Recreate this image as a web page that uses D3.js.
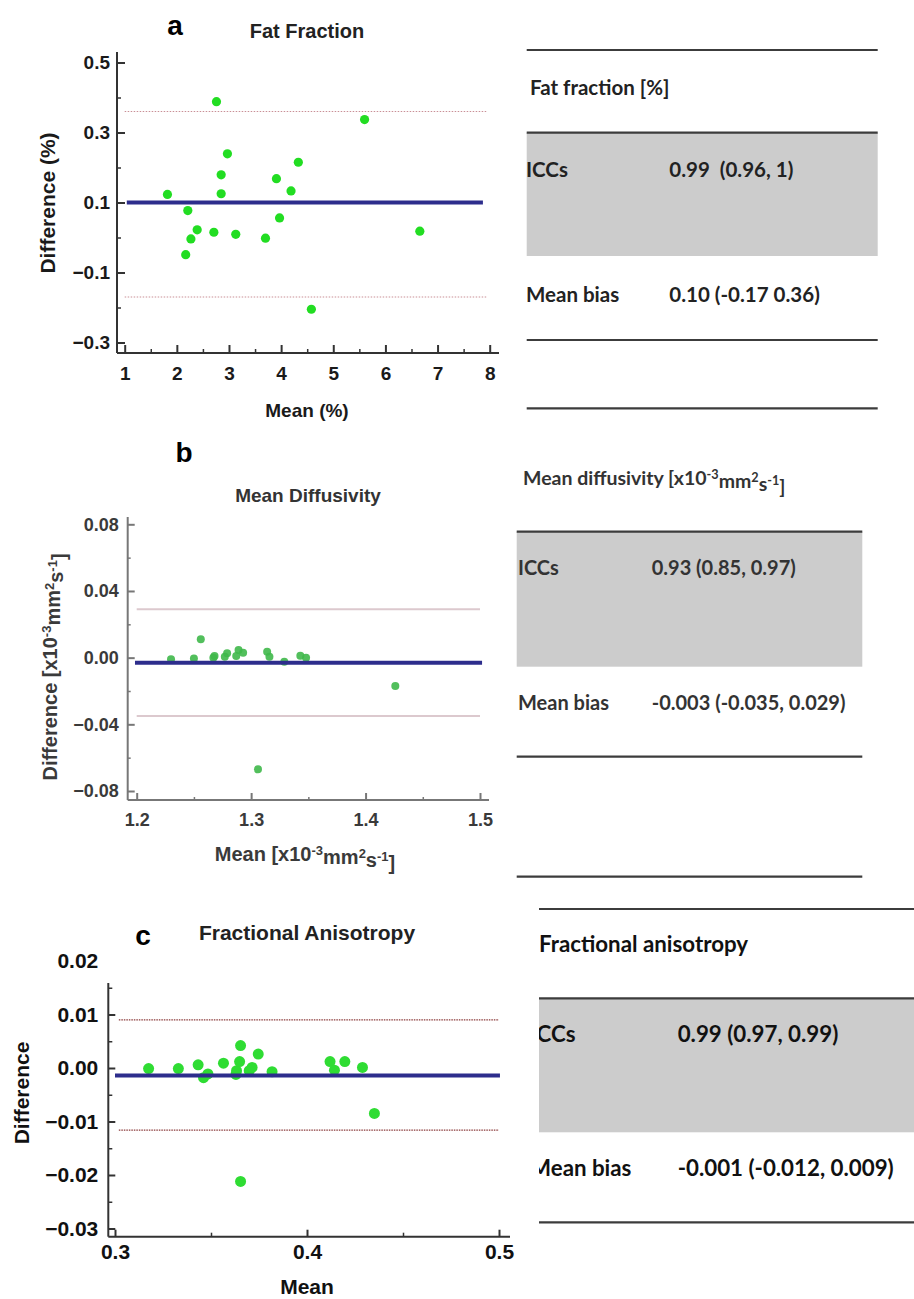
<!DOCTYPE html>
<html>
<head>
<meta charset="utf-8">
<script src="https://cdn.jsdelivr.net/npm/d3@7"></script>
<style>
  html, body { margin: 0; padding: 0; background: #fff; }
  svg { display: block; }
</style>
</head>
<body>
<svg id="chart" width="914" height="1299"></svg>
<script>
// ---------------- DATA ----------------
// Panel a: Fat Fraction
const aMean = [1.82, 2.76, 2.21, 2.17, 2.27, 2.39, 2.71, 2.85, 2.85, 2.97, 3.13, 3.70, 3.91, 3.97, 4.19, 4.33, 4.58, 5.60, 6.66];
const aDiff = [0.123, 0.388, 0.077, -0.049, -0.004, 0.022, 0.015, 0.179, 0.125, 0.239, 0.009, -0.002, 0.168, 0.056, 0.133, 0.215, -0.205, 0.337, 0.018];
const aBias = 0.10;
const aLimits = [-0.17, 0.36];
const aTicksX = [1, 2, 3, 4, 5, 6, 7, 8];
const aMinorX = [1.5, 2.5, 3.5, 4.5, 5.5, 6.5, 7.5];
const aTicksY = [-0.3, -0.1, 0.1, 0.3, 0.5];
const aMinorY = [-0.2, 0, 0.2, 0.4];

// Panel b: Mean Diffusivity
const bMean = [1.230, 1.250, 1.256, 1.268, 1.267, 1.279, 1.277, 1.289, 1.293, 1.287, 1.314, 1.316, 1.329, 1.343, 1.348, 1.306, 1.426];
const bDiff = [-0.001, -0.0005, 0.011, 0.001, 0.000, 0.0026, 0.0005, 0.0046, 0.003, 0.001, 0.0036, 0.0006, -0.0024, 0.0012, 0.000, -0.067, -0.017];
const bBias = -0.003;
const bLimits = [-0.035, 0.029];
const bTicksY = [-0.08, -0.04, 0.00, 0.04, 0.08];
const bMinorY = [-0.06, -0.02, 0.02, 0.06];
const bTicksX = [1.2, 1.3, 1.4, 1.5];
const bMinorX = [1.25, 1.35, 1.45];

// Panel c: Fractional Anisotropy
const cMean = [0.3175, 0.333, 0.3433, 0.3461, 0.3484, 0.3565, 0.3633, 0.3630, 0.3649, 0.3654, 0.3699, 0.3714, 0.3746, 0.3818, 0.3654, 0.412, 0.4143, 0.4197, 0.4289, 0.4351];
const cDiff = [-0.0001, -0.0001, 0.0006, -0.0018, -0.0011, 0.0009, -0.0005, -0.0012, 0.0012, 0.0042, -0.0005, 0.0001, 0.0026, -0.0007, -0.0212, 0.0012, -0.0004, 0.0012, 0.0001, -0.0085];
const cBias = -0.0014;
const cLimits = [-0.0116, 0.009];
const cTicksY = [-0.03, -0.02, -0.01, 0.00, 0.01, 0.02];
const cMinorY = [-0.025, -0.015, -0.005, 0.005, 0.015];
const cTicksX = [0.3, 0.4, 0.5];
const cMinorX = [0.35, 0.45];

// Tables
const tableTitles = ["Fat fraction [%]", "Mean diffusivity", "Fractional anisotropy"];
const rowLabels = ["ICCs", "Mean bias"];
const iccValues = ["0.99  (0.96, 1)", "0.93 (0.85, 0.97)", "0.99 (0.97, 0.99)"];
const biasValues = ["0.10 (-0.17 0.36)", "-0.003 (-0.035, 0.029)", "-0.001 (-0.012, 0.009)"];

// ---------------- DRAW ----------------
const svg = d3.select("#chart");

function unitText(sel, prefix) {
  // prefix [x10^-3 mm^2 s^-1]
  sel.append("tspan").text(prefix + "[x10");
  sel.append("tspan").attr("dy", "-0.45em").attr("font-size", "0.65em").text("-3");
  sel.append("tspan").attr("dy", "0.45em").text("mm");
  sel.append("tspan").attr("dy", "-0.45em").attr("font-size", "0.65em").text("2");
  sel.append("tspan").attr("dy", "0.45em").text("s");
  sel.append("tspan").attr("dy", "-0.45em").attr("font-size", "0.65em").text("-1");
  sel.append("tspan").attr("dy", "0.45em").text("]");
}

function drawPanel(p) {
  const g = svg.append("g");
  const x = d3.scaleLinear().domain(p.xDomain).range(p.xRange);
  const y = d3.scaleLinear().domain(p.yDomain).range(p.yRange);

  // limits of agreement
  p.limits.forEach(v => {
    g.append("line")
      .attr("x1", x(p.limExt[0])).attr("x2", x(p.limExt[1]))
      .attr("y1", y(v)).attr("y2", y(v))
      .attr("stroke", p.limColor).attr("stroke-width", p.limWidth)
      .attr("stroke-dasharray", p.limDash);
  });

  // points
  g.selectAll("circle.pt").data(p.mean.map((m, i) => [m, p.diff[i]]))
    .join("circle").attr("class", "pt")
    .attr("cx", d => x(d[0])).attr("cy", d => y(d[1]))
    .attr("r", p.r).attr("fill", p.ptColor).attr("fill-opacity", p.ptOpacity);

  // bias line
  g.append("line")
    .attr("x1", x(p.biasExt[0])).attr("x2", x(p.biasExt[1]))
    .attr("y1", y(p.bias)).attr("y2", y(p.bias))
    .attr("stroke", "#2d2d8c").attr("stroke-width", p.biasWidth);

  // axes lines
  g.append("line").attr("x1", p.axX).attr("x2", p.axX).attr("y1", p.axTop).attr("y2", p.axBottom)
    .attr("stroke", p.axColor).attr("stroke-width", 2);
  g.append("line").attr("x1", p.axX).attr("x2", p.axRight).attr("y1", p.axBottom).attr("y2", p.axBottom)
    .attr("stroke", p.axColor).attr("stroke-width", 2);

  const font = "Liberation Sans, Arial, sans-serif";

  // y axis
  const yAx = g.append("g").attr("transform", `translate(${p.axX},0)`)
    .call(d3.axisLeft(y).tickValues(p.ticksY).tickFormat(p.fmtY)
      .tickSizeInner(-p.majorLen).tickSizeOuter(0).tickPadding(p.padY));
  yAx.select(".domain").remove();
  yAx.selectAll(".tick line").attr("stroke", p.axColor).attr("stroke-width", 2)
    .filter(d => y(d) < p.axTop).remove();
  yAx.selectAll("text").attr("font-family", font)
    .attr("font-weight", "bold").attr("font-size", p.tickFont).attr("fill", p.textColor);
  const yMin = g.append("g").attr("transform", `translate(${p.axX},0)`)
    .call(d3.axisLeft(y).tickValues(p.minorY).tickFormat("").tickSizeInner(-p.minorLen).tickSizeOuter(0));
  yMin.select(".domain").remove();
  yMin.selectAll(".tick line").attr("stroke", p.axColor).attr("stroke-width", 1.5);

  // x axis
  const xAx = g.append("g").attr("transform", `translate(0,${p.axBottom})`)
    .call(d3.axisBottom(x).tickValues(p.ticksX).tickFormat(p.fmtX)
      .tickSizeInner(-p.majorLen).tickSizeOuter(0).tickPadding(p.padX));
  xAx.select(".domain").remove();
  xAx.selectAll(".tick line").attr("stroke", p.axColor).attr("stroke-width", 2);
  xAx.selectAll("text").attr("font-family", font)
    .attr("font-weight", "bold").attr("font-size", p.tickFont).attr("fill", p.textColor);
  const xMin = g.append("g").attr("transform", `translate(0,${p.axBottom})`)
    .call(d3.axisBottom(x).tickValues(p.minorX).tickFormat("").tickSizeInner(-p.minorLen).tickSizeOuter(0));
  xMin.select(".domain").remove();
  xMin.selectAll(".tick line").attr("stroke", p.axColor).attr("stroke-width", 1.5);

  // panel letter
  g.append("text").attr("x", p.letterPos[0]).attr("y", p.letterPos[1])
    .attr("text-anchor", "middle").attr("font-family", font).attr("font-weight", "bold")
    .attr("font-size", 28).attr("fill", "#000").text(p.letter);
  // title
  g.append("text").attr("x", p.titlePos[0]).attr("y", p.titlePos[1])
    .attr("text-anchor", "middle").attr("font-family", font).attr("font-weight", "bold")
    .attr("font-size", p.titleFont).attr("fill", p.titleColor).text(p.title);
  // x label
  const xl = g.append("text").attr("x", p.xLabPos[0]).attr("y", p.xLabPos[1])
    .attr("text-anchor", "middle").attr("font-family", font).attr("font-weight", "bold")
    .attr("font-size", p.labFont).attr("fill", p.textColor);
  if (p.xLabUnits) unitText(xl, "Mean "); else xl.text(p.xLab);
  // y label
  const yl = g.append("text")
    .attr("transform", `translate(${p.yLabPos[0]},${p.yLabPos[1]}) rotate(-90)`)
    .attr("text-anchor", "middle").attr("font-family", font).attr("font-weight", "bold")
    .attr("font-size", p.yLabFont || p.labFont).attr("fill", p.textColor);
  if (p.yLabUnits) unitText(yl, "Difference "); else yl.text(p.yLab);
}

drawPanel({
  mean: aMean, diff: aDiff, bias: aBias, limits: aLimits,
  ticksX: aTicksX, minorX: aMinorX, ticksY: aTicksY, minorY: aMinorY,
  fmtX: d3.format("d"), fmtY: d3.format(".1f"),
  xDomain: [1, 8], xRange: [124.7, 489.7], yDomain: [-0.3, 0.5], yRange: [342.5, 62.5],
  axX: 117, axTop: 52, axBottom: 353, axRight: 499, axColor: "#333",
  majorLen: 8, minorLen: 4, padY: 7, padX: 14, tickFont: 19, textColor: "#1a1a1a",
  limExt: [1.0, 7.95], limColor: "#c98f96", limWidth: 1.2, limDash: "1.5,1.5",
  biasExt: [1.04, 7.87], biasWidth: 4,
  r: 4.6, ptColor: "#22dd22", ptOpacity: 1,
  letter: "a", letterPos: [175, 35], title: "Fat Fraction", titlePos: [307, 38], titleFont: 20, titleColor: "#222",
  xLab: "Mean (%)", xLabPos: [307, 417], yLab: "Difference (%)", yLabPos: [55, 203], labFont: 19, yLabFont: 21
});

drawPanel({
  mean: bMean, diff: bDiff, bias: bBias, limits: bLimits,
  ticksX: bTicksX, minorX: bMinorX, ticksY: bTicksY, minorY: bMinorY,
  fmtX: d3.format(".1f"), fmtY: d3.format(".2f"),
  xDomain: [1.2, 1.5], xRange: [136.7, 480], yDomain: [-0.08, 0.08], yRange: [791, 524.3],
  axX: 127.7, axTop: 517, axBottom: 800, axRight: 489, axColor: "#777",
  majorLen: 7, minorLen: 3, padY: 9, padX: 13, tickFont: 18, textColor: "#3a3a3a",
  limExt: [1.2, 1.5], limColor: "#dcc9ce", limWidth: 2, limDash: null,
  biasExt: [1.1985, 1.5018], biasWidth: 4,
  r: 4, ptColor: "#3fb84a", ptOpacity: 0.9,
  letter: "b", letterPos: [184, 462], title: "Mean Diffusivity", titlePos: [308, 502], titleFont: 19, titleColor: "#333",
  xLabUnits: true, xLabPos: [305, 861], yLabUnits: true, yLabPos: [57, 667], labFont: 20, yLabFont: 20
});

drawPanel({
  mean: cMean, diff: cDiff, bias: cBias, limits: cLimits,
  ticksX: cTicksX, minorX: cMinorX, ticksY: cTicksY, minorY: cMinorY,
  fmtX: d3.format(".1f"), fmtY: d3.format(".2f"),
  xDomain: [0.3, 0.5], xRange: [115, 499], yDomain: [-0.03, 0.02], yRange: [1228.5, 961],
  axX: 108.3, axTop: 983, axBottom: 1236.7, axRight: 510, axColor: "#333",
  majorLen: 7, minorLen: 4, padY: 10, padX: 7, tickFont: 21, textColor: "#111",
  limExt: [0.302, 0.5], limColor: "#8a3a3a", limWidth: 1.2, limDash: "1.5,1",
  biasExt: [0.3, 0.5005], biasWidth: 4,
  r: 5.5, ptColor: "#2fdc33", ptOpacity: 1,
  letter: "c", letterPos: [143, 945], title: "Fractional Anisotropy", titlePos: [307, 940], titleFont: 21, titleColor: "#222",
  xLab: "Mean", xLabPos: [307, 1294], yLab: "Difference", yLabPos: [29, 1093], labFont: 21
});

// ---------------- TABLES ----------------
const tFont = "Lato, 'Open Sans', sans-serif";
const tables = [
  { x0: 526.7, x1: 877.7, lines: [50, 132.7, 340, 408.3], fill: [132.7, 256], titleY: 95, row1Y: 177, row2Y: 302,
    labX: 526, valX: 669.3, font: 20.5, titleFont: 20.5, clipX: 0, color: "#222" },
  { x0: 516.7, x1: 862.3, lines: [531.7, 756.7, 876.7], fill: [531.7, 666.7], titleY: 485, row1Y: 575, row2Y: 710,
    labX: 518, valX: 651.7, font: 20, titleFont: 19.5, clipX: 0, color: "#333", units: true },
  { x0: 539, x1: 914, lines: [909, 998.3, 1222.3], fill: [998.3, 1132.3], titleY: 952, row1Y: 1042, row2Y: 1176,
    labX: 530, valX: 677.7, font: 22.3, titleFont: 22.3, clipX: 539, color: "#111" }
];

tables.forEach((t, i) => {
  const g = svg.append("g");
  let tg = g;
  if (t.clipX) {
    svg.append("clipPath").attr("id", "clip" + i)
      .append("rect").attr("x", t.clipX).attr("y", 0).attr("width", 914 - t.clipX).attr("height", 1299);
    tg = g.append("g").attr("clip-path", `url(#clip${i})`);
  }
  g.insert("rect", ":first-child").attr("x", t.x0).attr("y", t.fill[0]).attr("width", t.x1 - t.x0)
    .attr("height", t.fill[1] - t.fill[0]).attr("fill", "#cccccc");
  t.lines.forEach(ly => g.append("line").attr("x1", t.x0).attr("x2", t.x1).attr("y1", ly).attr("y2", ly)
    .attr("stroke", "#3c3c3c").attr("stroke-width", 2.2));
  const title = g.append("text").attr("x", t.units ? 523 : (t.clipX ? t.clipX : t.labX + 4)).attr("y", t.titleY)
    .attr("font-family", tFont).attr("font-weight", "bold").attr("font-size", t.titleFont).attr("fill", t.color);
  if (t.units) unitText(title, tableTitles[i] + " "); else title.text(tableTitles[i]);
  [t.row1Y, t.row2Y].forEach((ry, k) => {
    tg.append("text").attr("x", t.labX).attr("y", ry).attr("font-family", tFont).attr("font-weight", "bold")
      .attr("font-size", t.font).attr("fill", t.color).text(rowLabels[k]);
    g.append("text").attr("x", t.valX).attr("y", ry).attr("font-family", tFont).attr("font-weight", "bold")
      .attr("font-size", t.font).attr("fill", t.color).attr("xml:space", "preserve")
      .style("white-space", "pre").text(k === 0 ? iccValues[i] : biasValues[i]);
  });
});
</script>
</body>
</html>
